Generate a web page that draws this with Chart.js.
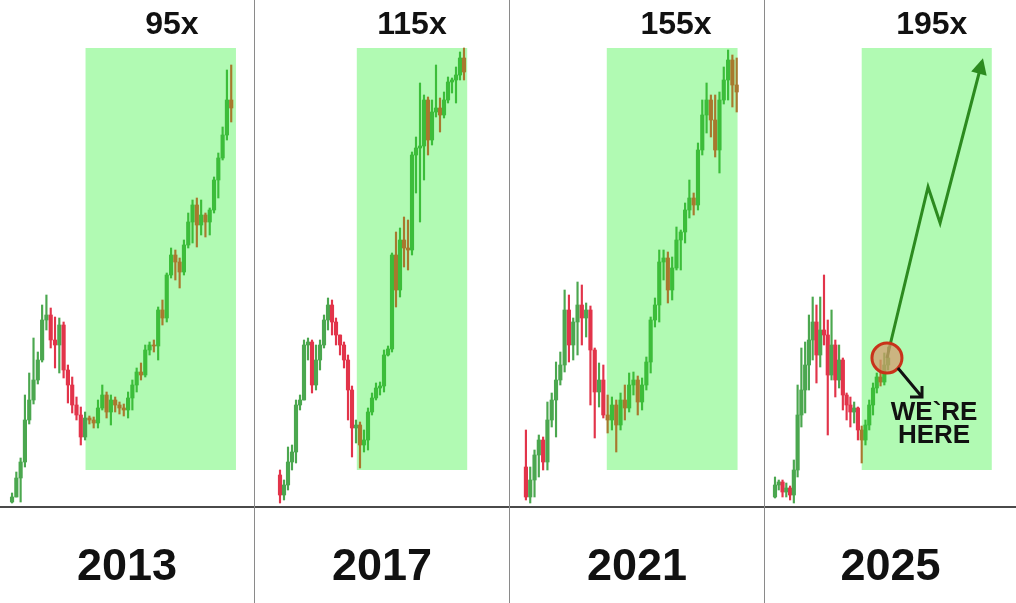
<!DOCTYPE html>
<html>
<head>
<meta charset="utf-8">
<script src="https://cdn.jsdelivr.net/npm/chart.js@4"></script>
<style>
  html, body { margin: 0; padding: 0; background: #fff; }
  #wrap { display: flex; width: 1016px; height: 603px; }
  .sep { width: 1px; height: 603px; background: #8a8a8a; }
  canvas { display: block; }
</style>
</head>
<body>
<div id="wrap">
  <canvas id="c0" width="254" height="603"></canvas>
  <div class="sep"></div>
  <canvas id="c1" width="254" height="603"></canvas>
  <div class="sep"></div>
  <canvas id="c2" width="254" height="603"></canvas>
  <div class="sep"></div>
  <canvas id="c3" width="251" height="603"></canvas>
</div>
<script>
const years = ['2013', '2017', '2021', '2025'];
const multiples = ['95x', '115x', '155x', '195x'];

// weekly candles per cycle, price in arbitrary units (open = previous close)
const open2013 = 5;
const close2013 = [10,29,45,87,107,127,147,187,192,167,162,182,137,122,102,92,70,89,87,84,99,112,95,107,102,99,97,109,122,135,132,157,162,161,197,189,232,252,245,235,262,285,302,282,292,285,297,327,349,372,407,399];
const high2013 = [14,35,49,112,134,169,155,202,212,199,190,189,185,142,130,110,100,95,91,90,107,122,115,112,110,105,103,115,127,139,144,162,165,167,200,207,234,259,257,249,267,294,307,309,307,294,299,330,354,380,437,442];
const low2013 = [4,10,5,40,83,103,123,145,177,159,139,134,129,104,94,87,62,67,83,79,79,97,89,82,95,93,91,89,97,115,127,130,152,155,147,182,185,229,227,219,232,259,264,260,272,270,272,294,309,347,367,385];

const open2017 = 32;
const close2017 = [12,22,45,55,102,107,162,165,122,147,162,187,202,185,172,162,147,117,79,82,62,67,95,109,119,121,152,158,252,217,267,259,257,352,359,361,407,367,395,399,392,407,425,427,432,449,435];
const high2017 = [37,27,60,62,107,112,167,169,167,162,167,192,209,207,189,172,165,152,121,87,85,77,99,114,124,125,157,161,254,275,279,290,287,355,370,424,412,410,407,442,409,415,430,429,440,455,459];
const low2017 = [4,7,17,37,44,97,107,147,114,117,137,159,177,172,162,152,139,87,50,64,39,55,57,92,107,112,115,151,155,200,210,240,237,252,314,285,327,352,362,390,375,389,404,414,404,427,427];

const open2021 = 40;
const close2021 = [10,27,52,67,45,87,107,127,142,197,162,185,202,189,197,157,115,127,92,87,102,82,107,99,122,127,105,122,145,187,202,245,249,217,239,267,275,297,309,302,357,392,407,387,357,407,427,447,422,415];
const high2021 = [77,40,57,72,70,105,114,145,155,217,212,189,225,222,204,201,159,144,142,112,110,107,114,122,134,135,131,129,150,190,209,257,257,255,250,280,277,304,327,314,364,407,424,412,412,415,440,457,452,449];
const low2021 = [7,4,10,30,37,37,80,70,122,135,145,147,152,162,170,102,69,100,89,74,77,55,77,87,95,112,92,97,117,134,180,185,227,204,207,237,237,264,289,292,297,352,374,370,350,334,403,407,400,395];

const open2025 = 10;
const close2025 = [22,25,15,19,12,37,92,117,142,167,185,152,177,172,132,162,127,147,112,102,95,99,77,67,82,102,119,130,125,142,149];
const high2025 = [30,27,27,24,21,47,122,159,165,192,210,202,210,232,187,197,167,162,149,114,110,105,100,81,87,107,124,134,147,154,160];
const low2025 = [9,17,10,10,7,4,30,80,94,117,147,124,140,162,72,127,110,119,97,87,80,84,67,44,62,77,92,114,121,122,137];

// highlighted bull run (candle index range) and the price band it covers
const runStart = [17.1, 19.2, 18.8, 23.0];
const runEnd = [52.1, 46.8, 49.2, 57.5];
const runLow = 37, runHigh = 459;

// projected path for 2025 and the "we're here" point
const projX = [29.7, 40.6, 43.8, 54.9];
const projY = [149, 320, 284, 445];
const hereX = 29.7, hereY = 149;

const series = [
  [open2013, close2013, high2013, low2013],
  [open2017, close2017, high2017, low2017],
  [open2021, close2021, high2021, low2021],
  [open2025, close2025, high2025, low2025]
];

// x ranges so the candles sit where they do in each panel
const xMin = [-2.8, -6.25, -3.7, -2.65];
const xMax = [56.3, 57.25, 55.35, 63.93];
const labelX = [37.2, 33, 34.9, 41.6];

const FONT = '"Liberation Sans", Arial, sans-serif';

function buildCandles(first, close, high, low) {
  const out = [];
  let o = first;
  close.forEach((c, i) => {
    out.push({ i: i, o: o, c: c, h: high[i], l: low[i] });
    o = c;
  });
  return out;
}

const panelDecor = {
  id: 'panelDecor',
  beforeDatasetsDraw(chart, args, opts) {
    const { ctx } = chart;
    const x = chart.scales.x, y = chart.scales.y;
    const l = x.getPixelForValue(opts.box[0]);
    const r = x.getPixelForValue(opts.box[1]);
    const t = y.getPixelForValue(opts.box[3]);
    const b = y.getPixelForValue(opts.box[2]);
    ctx.save();
    ctx.fillStyle = '#b1fab3';
    ctx.fillRect(l, t, r - l, b - t);
    ctx.restore();
  },
  afterDatasetsDraw(chart, args, opts) {
    const { ctx } = chart;
    const x = chart.scales.x, y = chart.scales.y;
    ctx.save();
    ctx.fillStyle = '#111';
    ctx.font = 'bold 32px ' + FONT;
    ctx.textAlign = 'center';
    ctx.textBaseline = 'middle';
    ctx.fillText(opts.label, x.getPixelForValue(opts.labelX), y.getPixelForValue(482));

    if (opts.projection) {
      // arrow head at the end of the projected path
      const meta = chart.getDatasetMeta(opts.projection);
      const pts = meta.data;
      const p1 = pts[pts.length - 2], p2 = pts[pts.length - 1];
      const ang = Math.atan2(p2.y - p1.y, p2.x - p1.x);
      ctx.fillStyle = '#2c8a1f';
      ctx.translate(p2.x, p2.y);
      ctx.rotate(ang);
      ctx.beginPath();
      ctx.moveTo(4, 0);
      ctx.lineTo(-12, -8);
      ctx.lineTo(-12, 8);
      ctx.closePath();
      ctx.fill();
      ctx.setTransform(1, 0, 0, 1, 0, 0);

      // pointer from the marker to the note
      const ax = x.getPixelForValue(32.6), ay = y.getPixelForValue(139);
      const bx = x.getPixelForValue(39.0), by = y.getPixelForValue(110);
      ctx.strokeStyle = '#111';
      ctx.lineWidth = 3;
      ctx.beginPath();
      ctx.moveTo(ax, ay);
      ctx.lineTo(bx, by);
      ctx.moveTo(bx, by - 11);
      ctx.lineTo(bx, by);
      ctx.lineTo(bx - 12, by);
      ctx.stroke();

      ctx.fillStyle = '#111';
      ctx.font = 'bold 26px ' + FONT;
      const tx = x.getPixelForValue(42.2);
      ctx.fillText('WE`RE', tx, y.getPixelForValue(94));
      ctx.fillText('HERE', tx, y.getPixelForValue(71));
    }
    ctx.restore();
  }
};

series.forEach((s, p) => {
  const cs = buildCandles(s[0], s[1], s[2], s[3]);
  const colorOf = (ctx) => {
    const k = cs[ctx.dataIndex];
    if (!k) return '#3bbf3b';
    const inside = k.i >= runStart[p];
    if (k.c >= k.o) return inside ? '#3cbd3a' : '#4ba74f';
    return inside ? '#a8782e' : '#e2344a';
  };

  const datasets = [
    {
      label: 'body',
      data: cs.map(k => ({ x: k.i, y: [k.o, k.c] })),
      backgroundColor: colorOf,
      barThickness: 3.5,
      minBarLength: 1,
      grouped: false,
      borderWidth: 0,
      order: 2
    },
    {
      label: 'wick',
      data: cs.map(k => ({ x: k.i, y: [k.l, k.h] })),
      backgroundColor: colorOf,
      barThickness: 1.5,
      grouped: false,
      borderWidth: 0,
      order: 3
    }
  ];

  let projection = 0;
  if (p === 3) {
    datasets.push({
      type: 'line',
      label: 'projection',
      data: projX.map((v, i) => ({ x: v, y: projY[i] })),
      borderColor: '#2c8a1f',
      borderWidth: 3,
      pointRadius: 0,
      tension: 0,
      order: 1
    });
    projection = datasets.length - 1;
    datasets.push({
      type: 'scatter',
      label: 'here',
      data: [{ x: hereX, y: hereY }],
      pointRadius: 15,
      backgroundColor: 'rgba(214,150,108,0.7)',
      borderColor: '#c8321a',
      borderWidth: 3,
      order: 0
    });
  }

  new Chart(document.getElementById('c' + p), {
    type: 'bar',
    data: { datasets: datasets },
    options: {
      responsive: false,
      animation: false,
      layout: { autoPadding: false, padding: { top: 7, left: 0, right: 0, bottom: 0 } },
      plugins: {
        legend: { display: false },
        tooltip: { enabled: false },
        panelDecor: {
          box: [runStart[p], runEnd[p], runLow, runHigh],
          label: multiples[p],
          labelX: labelX[p],
          projection: projection
        }
      },
      scales: {
        x: {
          type: 'linear',
          min: xMin[p],
          max: xMax[p],
          offset: false,
          ticks: { display: false },
          grid: { display: false, drawTicks: false },
          border: { display: true, color: '#4a4a4a', width: 2 },
          title: {
            display: true,
            text: years[p],
            color: '#111',
            font: { family: FONT, size: 45, weight: 'bold', lineHeight: 1.2 },
            padding: { top: 34, bottom: 8 }
          }
        },
        y: {
          display: false,
          min: 0,
          max: 500
        }
      }
    },
    plugins: [panelDecor]
  });
});
</script>
</body>
</html>
